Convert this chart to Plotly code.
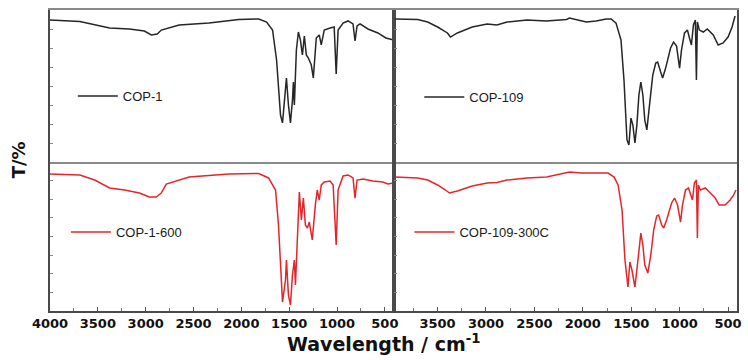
import plotly.graph_objects as go

# FT-IR spectra (wavenumber in cm^-1, transmittance in arbitrary %)
cop1_wn = [4000, 3688, 3377, 3169, 3014, 2941, 2879, 2837, 2650, 2339, 2027, 1819, 1736,
           1674, 1632, 1591, 1570, 1539, 1529, 1508, 1487, 1466, 1456, 1446, 1425, 1404,
           1383, 1362, 1342, 1321, 1300, 1269, 1248, 1217, 1186, 1165, 1134, 1072, 1030,
           1009, 989, 937, 885, 833, 812, 791, 760, 677, 573, 490, 407]
cop1_t = [93.4, 92.4, 88.2, 87.5, 86.2, 83.6, 84.2, 86.8, 90.1, 91.4, 93.8, 94.1, 92.1,
          86.8, 67.1, 30.9, 25.7, 47.4, 55.3, 37.5, 25.7, 40.8, 52.6, 37.5, 73.7, 85.5,
          80.3, 70.4, 82.9, 70.4, 68.4, 63.8, 55.3, 81.6, 83.6, 77.0, 86.8, 88.2, 88.8,
          57.9, 86.8, 91.4, 92.8, 90.8, 79.6, 89.5, 90.8, 87.5, 84.9, 81.6, 80.3]

cop1_600_wn = [4000, 3688, 3533, 3377, 3221, 3065, 2962, 2889, 2837, 2785, 2546, 2131, 1819,
               1716, 1674, 1643, 1612, 1591, 1570, 1539, 1529, 1508, 1487, 1466, 1446, 1435,
               1414, 1394, 1373, 1352, 1331, 1310, 1290, 1259, 1227, 1207, 1186, 1165, 1134,
               1072, 1041, 1009, 989, 937, 885, 833, 812, 791, 729, 625, 521, 469, 407]
cop1_600_t = [91.9, 91.3, 87.9, 82.6, 81.2, 79.2, 76.5, 76.5, 79.2, 85.2, 89.9, 91.9, 92.3,
              89.3, 84.6, 81.2, 57.7, 27.5, 6.0, 20.8, 34.2, 10.7, 4.0, 24.2, 34.2, 17.4,
              54.4, 79.9, 61.1, 75.8, 57.7, 55.7, 59.7, 47.7, 71.1, 81.2, 74.5, 84.6, 86.6,
              87.2, 84.6, 44.3, 81.2, 90.6, 91.3, 89.3, 75.8, 87.9, 88.6, 87.2, 86.6, 85.2, 85.9]

cop109_wn = [3940, 3705, 3602, 3500, 3398, 3367, 3295, 3142, 2988, 2886, 2783, 2578, 2374,
             2169, 2138, 2015, 1964, 1862, 1759, 1708, 1657, 1606, 1575, 1544, 1524, 1503,
             1483, 1462, 1442, 1421, 1401, 1380, 1360, 1339, 1309, 1278, 1247, 1227, 1196,
             1176, 1145, 1094, 1063, 1032, 1001, 981, 950, 920, 899, 879, 858, 838, 827,
             817, 797, 756, 715, 653, 602, 551, 500, 459, 428]
cop109_t = [94.1, 93.8, 92.1, 88.8, 84.9, 82.2, 84.9, 88.8, 90.8, 90.1, 92.1, 93.4, 92.8,
            93.8, 94.7, 92.8, 92.1, 92.8, 94.1, 94.1, 91.4, 80.3, 53.9, 14.5, 11.2, 28.9,
            24.3, 12.5, 24.3, 44.1, 52.6, 44.1, 27.6, 21.1, 40.8, 57.2, 65.1, 65.8, 59.2,
            55.3, 61.8, 75.0, 78.9, 76.3, 61.8, 73.7, 84.9, 86.8, 81.6, 77.0, 90.1, 93.4, 53.9,
            92.1, 86.8, 85.5, 87.5, 83.6, 77.0, 78.3, 82.2, 88.8, 96.1]

cop109_300_wn = [3940, 3705, 3602, 3500, 3418, 3377, 3295, 3142, 2988, 2886, 2783, 2578, 2374,
                 2138, 2015, 1964, 1739, 1677, 1636, 1595, 1565, 1534, 1514, 1493, 1462, 1442,
                 1421, 1401, 1380, 1360, 1329, 1298, 1268, 1237, 1217, 1186, 1165, 1135, 1083,
                 1053, 1022, 991, 971, 940, 909, 889, 868, 848, 827, 817, 807, 787, 735, 684,
                 633, 592, 531, 479, 449, 418]
cop109_300_t = [89.9, 89.3, 87.9, 84.6, 81.2, 79.2, 80.5, 83.9, 85.9, 86.2, 87.9, 89.3, 89.9,
                93.3, 92.6, 92.6, 92.6, 89.9, 84.6, 67.8, 34.2, 16.1, 32.9, 27.5, 16.1, 27.5,
                40.9, 52.3, 44.3, 30.9, 25.5, 37.6, 54.4, 63.8, 64.4, 57.7, 55.7, 61.1, 72.5,
                75.8, 71.1, 59.7, 71.1, 81.2, 82.6, 77.9, 74.5, 85.9, 87.9, 49.0, 84.6, 81.2,
                82.6, 79.2, 75.8, 71.1, 71.1, 74.5, 77.2, 81.2]

left_ticks = [4000, 3500, 3000, 2500, 2000, 1500, 1000, 500]
right_ticks = [3500, 3000, 2500, 2000, 1500, 1000, 500]

BLACK = "#262626"
RED = "#e3262b"

fig = go.Figure()
panels = [
    ("COP-1", cop1_wn, cop1_t, BLACK, "x", "y", "legend"),
    ("COP-109", cop109_wn, cop109_t, BLACK, "x2", "y2", "legend2"),
    ("COP-1-600", cop1_600_wn, cop1_600_t, RED, "x3", "y3", "legend3"),
    ("COP-109-300C", cop109_300_wn, cop109_300_t, RED, "x4", "y4", "legend4"),
]
for name, wn, t, col, xa, ya, lg in panels:
    fig.add_trace(go.Scatter(x=wn, y=t, mode="lines", name=name,
                             line=dict(color=col, width=1.5),
                             xaxis=xa, yaxis=ya, legend=lg, showlegend=True))

xsplit = 0.5007
ysplit = 0.495
FRAME = "#4a4a4a"
DIVIDER = "#8a8a8a"
tickfont = dict(family="DejaVu Sans", size=13, color="#111", weight="bold")

def xax(domain, rng, anchor, bottom, ticks):
    d = dict(domain=domain, range=rng, anchor=anchor, showgrid=False, zeroline=False,
             showline=True, linewidth=1.5)
    if bottom:
        d.update(linecolor=FRAME, mirror=False, ticks="inside", ticklen=4, tickwidth=1,
                 tickcolor="#555", tickvals=ticks, showticklabels=True, tickfont=tickfont,
                 minor=dict(dtick=250, ticks="inside", ticklen=3, tickcolor="#777"))
    else:
        d.update(linecolor=DIVIDER, mirror=True, ticks="", showticklabels=False)
    return d

def yax(domain, anchor):
    return dict(domain=domain, range=[0, 100], anchor=anchor, showgrid=False, zeroline=False,
                showline=True, linewidth=1.5, linecolor=FRAME, mirror=True,
                ticks="inside", ticklen=3, tickwidth=1, tickcolor="#888",
                tick0=0, dtick=12.5, showticklabels=False)

left_rng = [4000, 405]
right_rng = [3950, 408]
fig.update_layout(
    width=748, height=360,
    margin=dict(l=50, r=6, t=10, b=49),
    paper_bgcolor="white", plot_bgcolor="white",
    xaxis=xax([0, xsplit], left_rng, "y", False, left_ticks),
    xaxis2=xax([xsplit, 1], right_rng, "y2", False, right_ticks),
    xaxis3=xax([0, xsplit], left_rng, "y3", True, left_ticks),
    xaxis4=xax([xsplit, 1], right_rng, "y4", True, right_ticks),
    yaxis=yax([ysplit, 1], "x"),
    yaxis2=yax([ysplit, 1], "x2"),
    yaxis3=yax([0, ysplit], "x3"),
    yaxis4=yax([0, ysplit], "x4"),
)

legfont = dict(family="Liberation Sans", size=13, color="#1a1a1a")
def leg(px, py):
    return dict(x=(px - 50) / 692, y=(311 - py) / 301, xanchor="left", yanchor="middle",
                bgcolor="rgba(0,0,0,0)", borderwidth=0, font=legfont, itemwidth=40)

fig.update_layout(
    legend=leg(73, 96),
    legend2=leg(422, 97),
    legend3=leg(66, 232),
    legend4=leg(412, 232),
)

fig.add_annotation(text="Wavelength / cm<sup>-1</sup>", x=(386 - 50) / 692, y=(311 - 343) / 301,
                   xref="paper", yref="paper", showarrow=False, xanchor="center", yanchor="middle",
                   font=dict(family="DejaVu Sans", size=19, color="#111", weight="bold"))
fig.add_annotation(text="T/%", x=(18 - 50) / 692, y=(311 - 160) / 301, textangle=-90,
                   xref="paper", yref="paper", showarrow=False, xanchor="center", yanchor="middle",
                   font=dict(family="DejaVu Sans", size=18, color="#111", weight="bold"))

fig.write_html("out.html")
